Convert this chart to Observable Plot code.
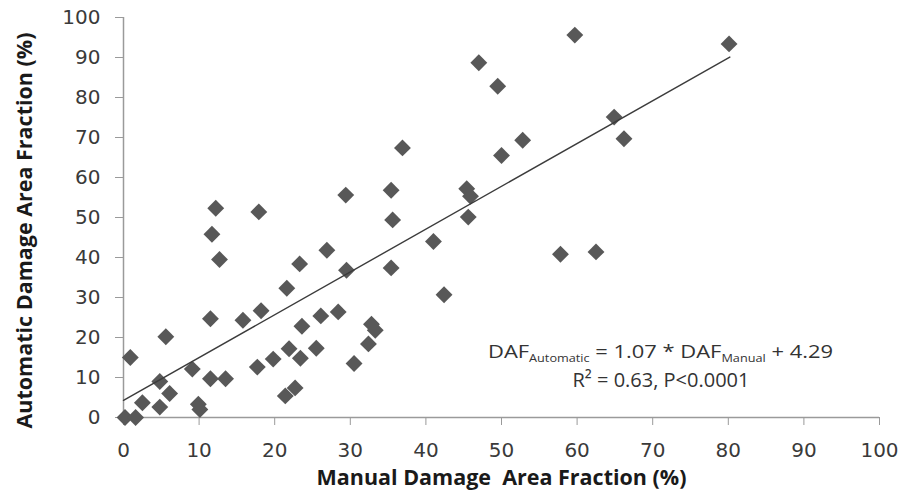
<!DOCTYPE html>
<html><head><meta charset="utf-8">
<script src="https://cdn.jsdelivr.net/npm/d3@7"></script>
<script src="https://cdn.jsdelivr.net/npm/@observablehq/plot@0.6"></script>
<style>html,body{margin:0;padding:0;background:#fff}svg{display:block}</style>
</head><body><div id="chart"></div>
<script>
const manual = [0.2,1.6,0.9,2.5,4.8,4.8,6.1,5.6,9.1,9.9,10.1,11.5,13.5,11.5,11.7,12.2,12.7,15.8,17.9,18.2,17.7,19.8,21.6,21.9,23.4,21.4,22.7,23.3,23.6,25.5,26.1,26.9,28.4,29.5,29.4,30.5,32.4,32.8,33.3,35.4,35.6,35.4,36.9,41.0,42.4,45.4,45.9,45.6,47.0,49.5,50.0,52.8,57.8,59.7,62.5,64.9,66.2,80.1];
const automatic = [0,0,15,3.7,2.6,9,6,20.2,12.1,3.3,2,9.7,9.7,24.7,45.8,52.3,39.5,24.3,51.4,26.7,12.6,14.6,32.3,17.2,14.8,5.4,7.4,38.4,22.8,17.3,25.4,41.8,26.4,36.8,55.6,13.5,18.4,23.3,21.8,56.8,49.4,37.4,67.4,44,30.7,57.2,55.3,50.1,88.7,82.8,65.5,69.3,40.8,95.6,41.4,75.1,69.7,93.4];
const xTicks = [0,10,20,30,40,50,60,70,80,90,100];
const yTicks = [0,10,20,30,40,50,60,70,80,90,100];
const fitSlope = 1.07;
const fitIntercept = 4.29;
const fitRange = [0, 80.2];
const xTitle = "Manual Damage  Area Fraction (%)";
const yTitle = "Automatic Damage Area Fraction (%)";

const points = manual.map((m, i) => ({manual: m, automatic: automatic[i]}));
const fitLine = fitRange.map(x => ({x, y: fitSlope * x + fitIntercept}));

const plot = Plot.plot({
  width: 908, height: 503,
  marginLeft: 123, marginRight: 29, marginTop: 17, marginBottom: 86,
  x: {domain: [0, 100], label: null},
  y: {domain: [0, 100], label: null},
  style: {fontFamily: "DejaVu Sans", fontSize: "20px", color: "#3a3a3a", background: "#fff", overflow: "visible"},
  marks: [
    Plot.axisX({ticks: xTicks, tickSize: 8, tickPadding: 17, stroke: "#9a9a9a", fill: "#3a3a3a", label: null, fontSize: 20}),
    Plot.axisY({ticks: yTicks, tickSize: 8, tickPadding: 15, stroke: "#9a9a9a", fill: "#3a3a3a", label: null, fontSize: 20}),
    Plot.ruleY([0], {stroke: "#9a9a9a", strokeWidth: 1.5}),
    Plot.ruleX([0], {stroke: "#9a9a9a", strokeWidth: 1.5}),
    Plot.dot(points, {x: "manual", y: "automatic", symbol: "diamond2", r: 7.6, fill: "#585858"}),
    Plot.line(fitLine, {x: "x", y: "y", stroke: "#3c3c3c", strokeWidth: 1.4}),
    Plot.text([xTitle], {frameAnchor: "bottom", dy: 67, textAnchor: "middle", fontFamily: "Open Sans", fontWeight: "bold", fontSize: 21.5, fill: "#1a1a1a"}),
    Plot.text([yTitle], {frameAnchor: "left", rotate: -90, dx: -98, dy: 13, textAnchor: "middle", fontFamily: "Open Sans", fontWeight: "bold", fontSize: 21.5, fill: "#1a1a1a"})
  ]
});
document.getElementById("chart").appendChild(plot);

// regression equation annotation
const svg = d3.select(plot);
const eq = svg.append("text")
  .attr("x", 488).attr("y", 358).attr("text-anchor", "start")
  .attr("font-family", "Open Sans").attr("font-size", 19).attr("fill", "#333")
  .attr("textLength", 345).attr("lengthAdjust", "spacingAndGlyphs");
eq.append("tspan").text("DAF");
eq.append("tspan").attr("font-size", 11).attr("dy", 4).text("Automatic");
eq.append("tspan").attr("dy", -4).text(" = 1.07 * DAF");
eq.append("tspan").attr("font-size", 11).attr("dy", 4).text("Manual");
eq.append("tspan").attr("dy", -4).text(" + 4.29");
svg.append("text")
  .attr("x", 661).attr("y", 387).attr("text-anchor", "middle")
  .attr("font-family", "Open Sans").attr("font-size", 20).attr("fill", "#333")
  .text("R² = 0.63, P<0.0001");
</script>
</body></html>
